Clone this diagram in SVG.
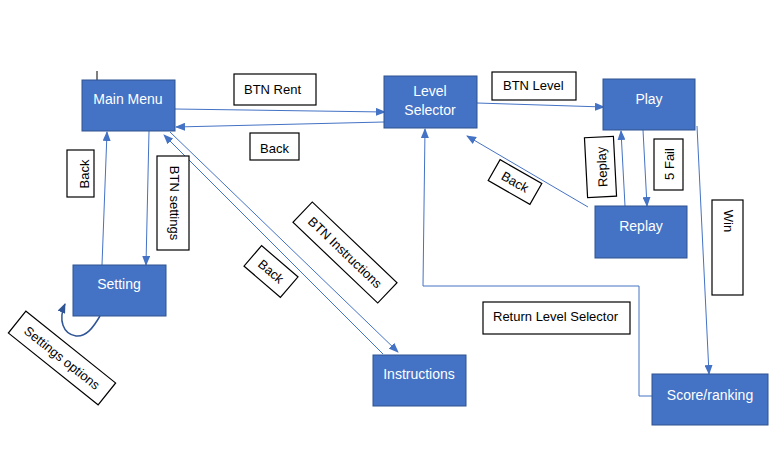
<svg xmlns="http://www.w3.org/2000/svg" width="773" height="449" viewBox="0 0 773 449">
<style>
.node rect{fill:#4472C4;stroke:#2F528F;stroke-width:1}
.node text{fill:#fff;font-family:"Liberation Sans",Arial,sans-serif;font-size:14px;text-anchor:middle}
.lbl rect{fill:#fff;stroke:#000;stroke-width:1.2}
.lbl text{fill:#000;font-family:"Liberation Sans",Arial,sans-serif;font-size:13px}
.c{fill:none;stroke:#4472C4;stroke-width:1;marker-end:url(#ah)}
</style>
<defs>
<marker id="ah" markerWidth="10" markerHeight="8" refX="9" refY="4" orient="auto" markerUnits="userSpaceOnUse"><path d="M0,0 L10,4 L0,8 Z" fill="#4472C4"/></marker>
<marker id="ah2" markerWidth="10" markerHeight="8" refX="9" refY="4" orient="auto" markerUnits="userSpaceOnUse"><path d="M0,0 L10,4 L0,8 Z" fill="#2F5597"/></marker>
</defs>
<rect width="773" height="449" fill="#fff"/>
<g id="connectors">
<line class="c" x1="175" y1="109" x2="385" y2="112"/>
<line class="c" x1="384" y1="122" x2="176" y2="127"/>
<line class="c" x1="477" y1="103" x2="604" y2="107"/>
<line class="c" x1="625" y1="206" x2="621" y2="131"/>
<line class="c" x1="643" y1="130" x2="647" y2="206"/>
<line class="c" x1="588" y1="207" x2="467" y2="136"/>
<line class="c" x1="697" y1="126" x2="709" y2="374"/>
<polyline class="c" points="652,396 639,396 639,286 423,286 425,129"/>
<line class="c" x1="102" y1="265" x2="107" y2="132"/>
<line class="c" x1="149" y1="131" x2="146" y2="265"/>
<line class="c" x1="383" y1="354" x2="164" y2="135"/>
<line class="c" x1="170" y1="132" x2="398" y2="352"/>
<path d="M100,316 C93,328 86,337 76,336 C63,334 58,320 65,304" fill="none" stroke="#2F5597" stroke-width="1.5" marker-end="url(#ah2)"/>
<line x1="97" y1="71" x2="97" y2="89" stroke="#000" stroke-width="1"/>
</g>
<g id="main-menu" class="node"><rect x="82" y="80" width="93" height="51"/><text x="128" y="104">Main Menu</text></g>
<g id="level-selector" class="node"><rect x="384" y="76" width="93" height="52"/><text x="430" y="96">Level</text><text x="430" y="115">Selector</text></g>
<g id="play" class="node"><rect x="603" y="79" width="92" height="51"/><text x="649" y="104">Play</text></g>
<g id="replay" class="node"><rect x="595" y="206" width="92" height="52"/><text x="641" y="231">Replay</text></g>
<g id="setting" class="node"><rect x="73" y="265" width="93" height="51"/><text x="119" y="289">Setting</text></g>
<g id="instructions" class="node"><rect x="373" y="355" width="93" height="51"/><text x="419" y="379">Instructions</text></g>
<g id="score-ranking" class="node"><rect x="652" y="374" width="116" height="51"/><text x="710" y="400">Score/ranking</text></g>
<g id="lbl-btn-rent" class="lbl"><rect x="234" y="74" width="82" height="31"/><text x="244" y="94">BTN Rent</text></g>
<g id="lbl-back-top" class="lbl"><rect x="250" y="133" width="49" height="27"/><text x="260" y="153">Back</text></g>
<g id="lbl-btn-level" class="lbl"><rect x="492" y="72" width="84" height="28"/><text x="503" y="90">BTN Level</text></g>
<g id="lbl-return" class="lbl"><rect x="483" y="302" width="147" height="32"/><text x="493" y="321">Return Level Selector</text></g>
<g id="lbl-back-left" class="lbl"><rect x="67" y="150" width="27" height="47"/><text transform="translate(84,174) rotate(-90)" text-anchor="middle" dominant-baseline="central">Back</text></g>
<g id="lbl-btn-settings" class="lbl"><rect x="157" y="156" width="32" height="94"/><text transform="translate(174,203) rotate(90)" text-anchor="middle" dominant-baseline="central">BTN settings</text></g>
<g id="lbl-win" class="lbl"><rect x="712" y="200" width="31" height="95"/><text transform="translate(728,221) rotate(90)" text-anchor="middle" dominant-baseline="central">Win</text></g>
<g id="lbl-replay" class="lbl" transform="rotate(-3 600 167)"><rect x="586" y="137" width="29" height="60"/><text transform="translate(602,167) rotate(-90)" text-anchor="middle" dominant-baseline="central">Replay</text></g>
<g id="lbl-5fail" class="lbl"><rect x="654" y="139" width="29" height="51"/><text transform="translate(669,164) rotate(-90)" text-anchor="middle" dominant-baseline="central">5 Fail</text></g>
<g id="lbl-back-replay" class="lbl" transform="translate(515,182) rotate(29.7)"><rect x="-24" y="-12" width="48" height="24"/><text x="0" y="0" text-anchor="middle" dominant-baseline="central">Back</text></g>
<g id="lbl-back-instr" class="lbl" transform="translate(271,271.5) rotate(40.7)"><rect x="-24" y="-13.5" width="48" height="27"/><text x="0" y="0" text-anchor="middle" dominant-baseline="central">Back</text></g>
<g id="lbl-btn-instr" class="lbl" transform="translate(345,252.5) rotate(43.6)"><rect x="-58.5" y="-14" width="117" height="28"/><text x="0" y="0" text-anchor="middle" dominant-baseline="central">BTN Instructions</text></g>
<g id="lbl-settings-options" class="lbl" transform="translate(62,358) rotate(38.7)"><rect x="-57.5" y="-14" width="115" height="28"/><text x="0" y="0" text-anchor="middle" dominant-baseline="central">Settings options</text></g>
</svg>
